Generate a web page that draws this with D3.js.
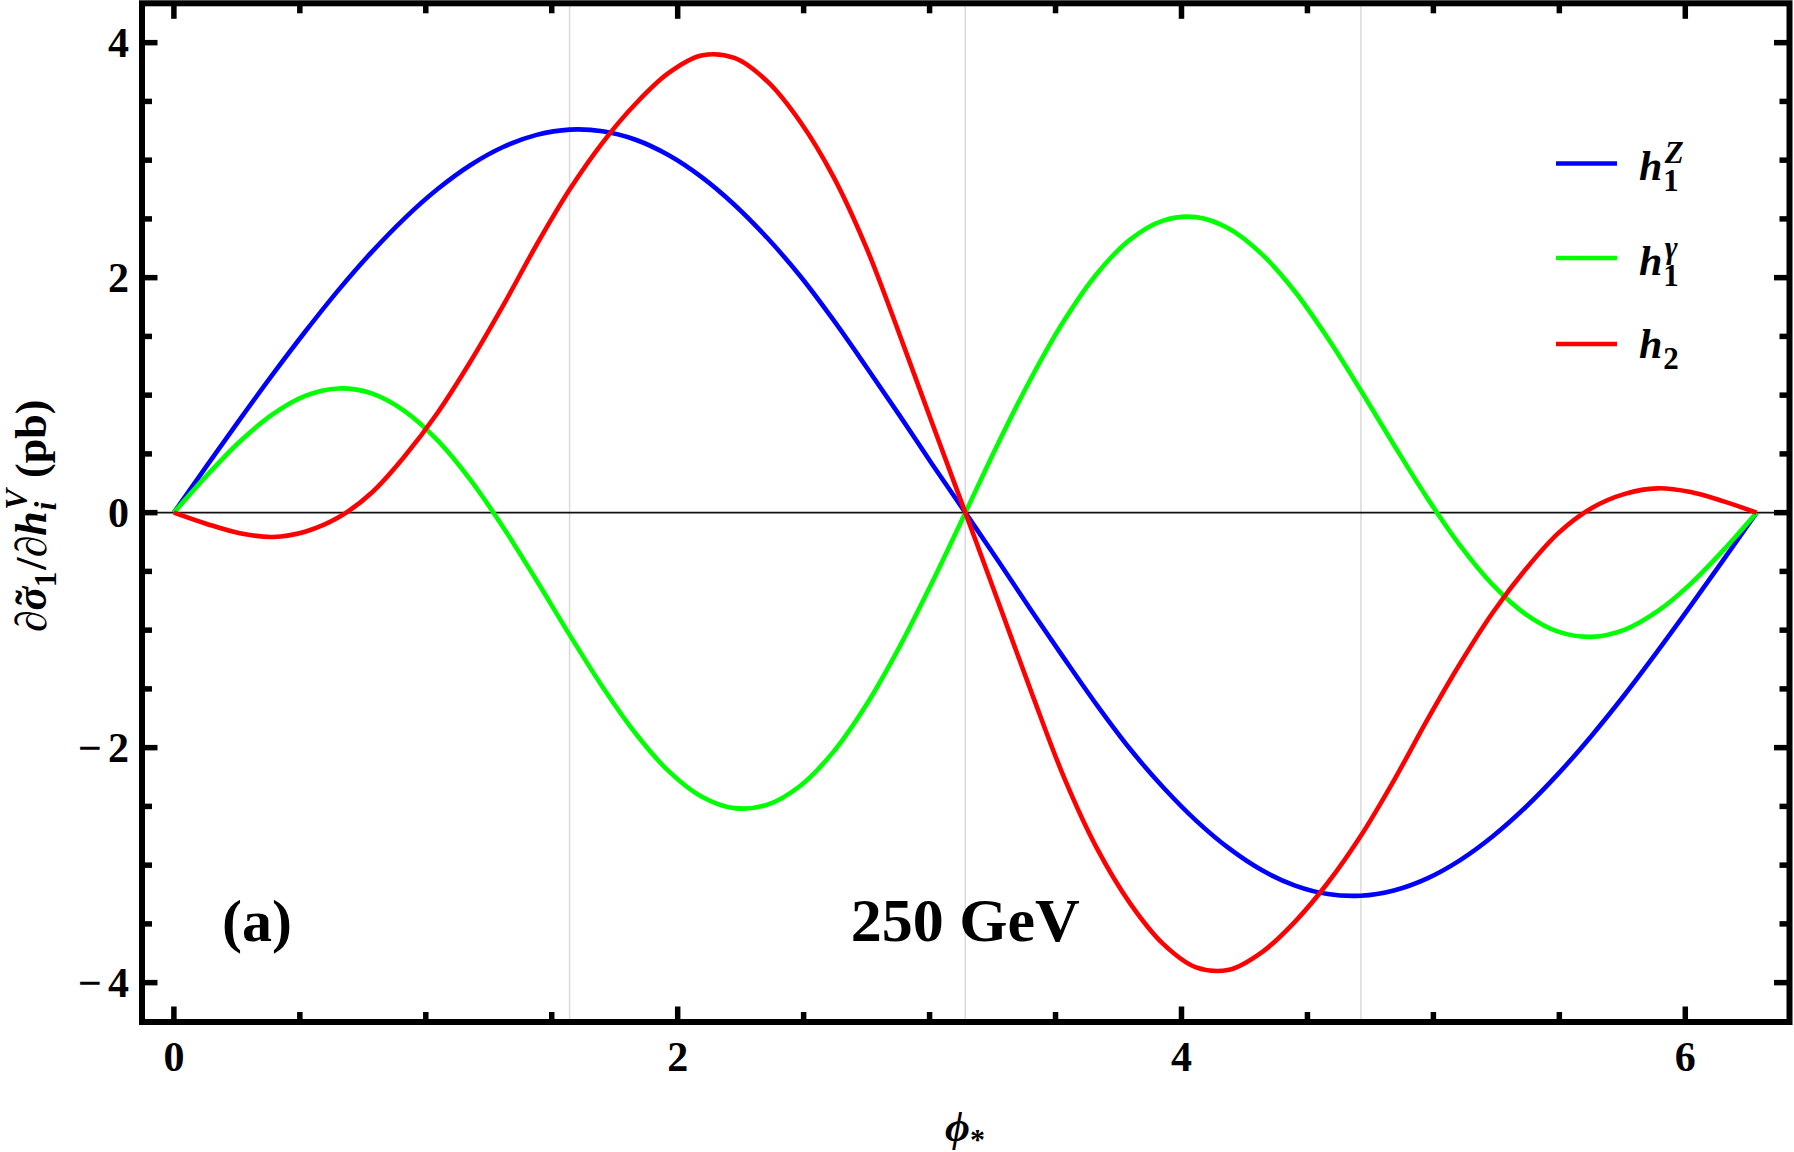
<!DOCTYPE html>
<html>
<head>
<meta charset="utf-8">
<script src="https://cdn.jsdelivr.net/npm/d3@7"></script>
<style>
  html, body { margin: 0; padding: 0; background: #fff; }
  svg { display: block; }
  text { font-family: "Liberation Serif", "Times New Roman", serif; font-weight: bold; fill: #000; }
</style>
</head>
<body>
<svg id="chart" width="1794" height="1152"></svg>
<script>
// phi_* sample points (k * pi/24) and curves
const phi = [0, 0.131, 0.262, 0.393, 0.524, 0.654, 0.785, 0.916, 1.047, 1.178, 1.309, 1.440,
  1.571, 1.702, 1.833, 1.963, 2.094, 2.225, 2.356, 2.487, 2.618, 2.749, 2.880, 3.011,
  3.142, 3.272, 3.403, 3.534, 3.665, 3.796, 3.927, 4.058, 4.189, 4.320, 4.451, 4.581,
  4.712, 4.843, 4.974, 5.105, 5.236, 5.367, 5.498, 5.629, 5.760, 5.890, 6.021, 6.152, 6.283];

const h1Z = [0, 0.400, 0.794, 1.179, 1.548, 1.896, 2.217, 2.505, 2.754, 2.959, 3.114, 3.215,
  3.260, 3.246, 3.174, 3.044, 2.858, 2.621, 2.337, 2.012, 1.640, 1.240, 0.830, 0.410,
  0, -0.410, -0.830, -1.240, -1.640, -2.012, -2.337, -2.621, -2.858, -3.044, -3.174, -3.246,
  -3.260, -3.215, -3.114, -2.959, -2.754, -2.505, -2.217, -1.896, -1.548, -1.179, -0.794, -0.400, 0];

const h1gamma = [0, 0.317, 0.606, 0.839, 0.996, 1.057, 1.015, 0.865, 0.615, 0.277, -0.130, -0.578,
  -1.040, -1.484, -1.880, -2.198, -2.416, -2.515, -2.485, -2.324, -2.036, -1.635, -1.144, -0.589,
  0, 0.589, 1.144, 1.635, 2.036, 2.324, 2.485, 2.515, 2.416, 2.198, 1.880, 1.484,
  1.040, 0.578, 0.130, -0.277, -0.615, -0.865, -1.015, -1.057, -0.996, -0.839, -0.606, -0.317, 0];

const h2 = [0, -0.096, -0.175, -0.207, -0.160, -0.040, 0.170, 0.480, 0.850, 1.288, 1.770, 2.280,
  2.750, 3.150, 3.480, 3.740, 3.890, 3.870, 3.670, 3.325, 2.860, 2.255, 1.521, 0.756,
  0, -0.756, -1.521, -2.255, -2.860, -3.325, -3.670, -3.870, -3.890, -3.740, -3.480, -3.150,
  -2.750, -2.280, -1.770, -1.288, -0.850, -0.480, -0.170, 0.040, 0.160, 0.207, 0.175, 0.096, 0];

const xDomain = [-0.1266, 6.4137];
const yDomain = [-4.335, 4.335];
const xMajor = [0, 2, 4, 6];
const yMajor = [-4, -2, 0, 2, 4];
const gridPhi = [Math.PI / 2, Math.PI, 3 * Math.PI / 2];

const seriesList = [
  { key: "h1Z", values: h1Z, color: "#0000ff" },
  { key: "h1gamma", values: h1gamma, color: "#00ff00" },
  { key: "h2", values: h2, color: "#ff0000" }
];

const svg = d3.select("#chart");
const frame = { left: 142, right: 1789.5, top: 3.3, bottom: 1022 };

const x = d3.scaleLinear().domain(xDomain).range([frame.left, frame.right]);
const y = d3.scaleLinear().domain(yDomain).range([frame.bottom, frame.top]);

// light vertical grid at pi/2, pi, 3pi/2
svg.append("g")
  .selectAll("line")
  .data(gridPhi)
  .join("line")
  .attr("x1", d => x(d)).attr("x2", d => x(d))
  .attr("y1", frame.top).attr("y2", frame.bottom)
  .attr("stroke", "#dadada")
  .attr("stroke-width", 1.5);

// zero axis
svg.append("line")
  .attr("x1", frame.left).attr("x2", frame.right)
  .attr("y1", y(0)).attr("y2", y(0))
  .attr("stroke", "#111")
  .attr("stroke-width", 1.8);

const line = d3.line()
  .x((d, i) => x(phi[i]))
  .y(d => y(d))
  .curve(d3.curveCatmullRom.alpha(0.5));

svg.append("g")
  .attr("fill", "none")
  .attr("stroke-width", 4.6)
  .attr("stroke-linejoin", "round")
  .selectAll("path")
  .data(seriesList)
  .join("path")
  .attr("stroke", d => d.color)
  .attr("d", d => line(d.values));

// frame ticks (inward, all four sides)
const majorLen = 15.5, minorLen = 10;
const xTickVals = d3.range(0, xDomain[1], 0.5);
const yTickVals = d3.range(-4, 4.001, 0.5);
const isMajor = (v, list) => list.some(m => Math.abs(m - v) < 1e-6);

const ticks = svg.append("g").attr("stroke", "#000").attr("stroke-width", 5.5);
xTickVals.forEach(v => {
  const len = isMajor(v, xMajor) ? majorLen : minorLen;
  ticks.append("line").attr("x1", x(v)).attr("x2", x(v))
    .attr("y1", frame.bottom).attr("y2", frame.bottom - len);
  ticks.append("line").attr("x1", x(v)).attr("x2", x(v))
    .attr("y1", frame.top).attr("y2", frame.top + len);
});
yTickVals.forEach(v => {
  const len = isMajor(v, yMajor) ? majorLen : minorLen;
  ticks.append("line").attr("y1", y(v)).attr("y2", y(v))
    .attr("x1", frame.left).attr("x2", frame.left + len);
  ticks.append("line").attr("y1", y(v)).attr("y2", y(v))
    .attr("x1", frame.right).attr("x2", frame.right - len);
});

svg.append("rect")
  .attr("x", frame.left).attr("y", frame.top)
  .attr("width", frame.right - frame.left)
  .attr("height", frame.bottom - frame.top)
  .attr("fill", "none")
  .attr("stroke", "#000")
  .attr("stroke-width", 6);

// tick labels
svg.append("g")
  .selectAll("text")
  .data(xMajor)
  .join("text")
  .attr("x", d => x(d))
  .attr("y", 1071)
  .attr("text-anchor", "middle")
  .attr("font-size", 42)
  .text(d => d);

const yLab = svg.append("g")
  .selectAll("text")
  .data(yMajor)
  .join("text")
  .attr("x", 129)
  .attr("y", d => y(d) + 14.5)
  .attr("text-anchor", "end")
  .attr("font-size", 42);
yLab.each(function (d) {
  const t = d3.select(this);
  if (d < 0) {
    t.append("tspan").text("\u2212");
    t.append("tspan").attr("dx", 6).text(Math.abs(d));
  } else {
    t.text(d);
  }
});

// axis titles
const xt = svg.append("text")
  .attr("x", 965)
  .attr("y", 1141)
  .attr("text-anchor", "middle")
  .attr("font-size", 43);
xt.append("tspan").attr("font-style", "italic").text("\u03d5");
xt.append("tspan").attr("font-size", 30).attr("dy", 8).text("*");

const yt = svg.append("text")
  .attr("transform", "translate(46,516) rotate(-90)")
  .attr("text-anchor", "middle")
  .attr("font-size", 44);
yt.append("tspan").text("\u2202");
yt.append("tspan").attr("font-style", "italic").text("\u03c3");
yt.append("tspan").attr("dx", -18).text("\u02dc");
yt.append("tspan").attr("font-size", 31).attr("dx", 3).attr("dy", 10).text("1");
yt.append("tspan").attr("dx", 2).attr("dy", -10).text("/\u2202");
yt.append("tspan").attr("font-style", "italic").text("h");
yt.append("tspan").attr("font-size", 31).attr("font-style", "italic").attr("dx", 1).attr("dy", 10).text("i");
yt.append("tspan").attr("font-size", 31).attr("font-style", "italic").attr("dx", -8).attr("dy", -29).text("V");
yt.append("tspan").attr("dy", 19).text(" (pb)");

// panel annotations
svg.append("text")
  .attr("x", 222).attr("y", 941)
  .attr("font-size", 60)
  .text("(a)");
svg.append("text")
  .attr("x", x(Math.PI)).attr("y", 941)
  .attr("text-anchor", "middle")
  .attr("font-size", 62)
  .text("250 GeV");

// legend
const legendRows = [
  { color: "#0000ff", sub: "1", sup: "Z", y: 163.5, base: 180 },
  { color: "#00ff00", sub: "1", sup: "\u03b3", y: 258, base: 275 },
  { color: "#ff0000", sub: "2", sup: null, y: 344, base: 358 }
];
const lg = svg.append("g");
legendRows.forEach(r => {
  lg.append("line")
    .attr("x1", 1556).attr("x2", 1617)
    .attr("y1", r.y).attr("y2", r.y)
    .attr("stroke", r.color)
    .attr("stroke-width", 4.6);
  const t = lg.append("text")
    .attr("x", 1639).attr("y", r.base)
    .attr("font-size", 42);
  t.append("tspan").attr("font-style", "italic").text("h");
  t.append("tspan").attr("font-size", 31).attr("dy", 11).attr("dx", 1).text(r.sub);
  if (r.sup) {
    t.append("tspan").attr("font-size", 31).attr("font-style", "italic")
      .attr("dx", -14).attr("dy", -28).text(r.sup);
  }
});
</script>
</body>
</html>
